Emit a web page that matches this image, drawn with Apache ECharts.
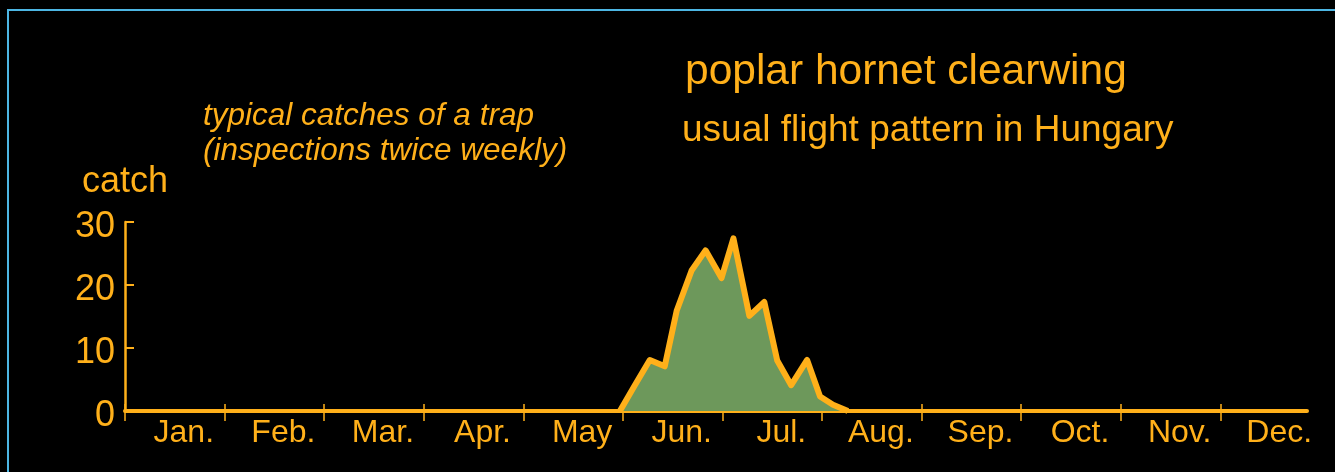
<!DOCTYPE html>
<html lang="en">
<head>
    <meta charset="UTF-8">
    <title>poplar hornet clearwing</title>
    <style>
        html, body { margin: 0; padding: 0; background: #000; }
        #chart { width: 1335px; height: 472px; }
    </style>
</head>
<body>
<div id="chart"></div>
<script src="https://cdn.jsdelivr.net/npm/echarts@6/dist/echarts.min.js"></script>
<script type="text/javascript">
    // month units on the x axis (0 = start of Jan.)
    var months = ['Jan.', 'Feb.', 'Mar.', 'Apr.', 'May', 'Jun.', 'Jul.', 'Aug.', 'Sep.', 'Oct.', 'Nov.', 'Dec.'];
    var monthTicks = [0, 1, 2, 3, 4, 5, 6, 7, 8, 9, 10, 11];
    var yTicks = [0, 10, 20, 30];
    // trap inspections (twice weekly)
    var catchX = [4.97, 5.12, 5.27, 5.42, 5.54, 5.69, 5.83, 5.99, 6.11, 6.27, 6.42, 6.55, 6.69, 6.85, 6.98, 7.11, 7.26];
    var catchY = [0, 4.1, 8.1, 7.1, 15.9, 22.3, 25.5, 21.1, 27.4, 15.1, 17.3, 8.0, 4.1, 8.1, 2.3, 1.0, 0];

    var orange = '#ffb01a';
    var font = 'Arial, "Liberation Sans", sans-serif';

    var chart = echarts.init(document.getElementById('chart'));
    var option = {
        backgroundColor: '#000',
        animation: false,
        grid: [
            {left: 125, right: 28, top: 222, bottom: 61},
            // label band, shifted a bit to the right like the original
            {left: 134, width: 1195, top: 222, bottom: 61}
        ],
        xAxis: [{
            type: 'value', gridIndex: 0, min: 0, max: 11.87,
            axisLine: {lineStyle: {color: orange, width: 4}},
            axisTick: {inside: true, length: 7, customValues: monthTicks, lineStyle: {color: orange, width: 1.5}},
            axisLabel: {show: false},
            splitLine: {show: false}
        }, {
            type: 'value', gridIndex: 0, min: 0, max: 11.87, position: 'bottom',
            axisLine: {show: false},
            axisTick: {length: 10, customValues: monthTicks, lineStyle: {color: orange, width: 1.5}},
            axisLabel: {show: false},
            splitLine: {show: false}
        }, {
            type: 'category', gridIndex: 1, data: months,
            axisLine: {show: false},
            axisTick: {show: false},
            axisLabel: {color: orange, fontSize: 32, fontFamily: font, margin: 6, interval: 0}
        }],
        yAxis: [{
            type: 'value', gridIndex: 0, min: 0, max: 30, interval: 10,
            name: 'catch', nameLocation: 'end', nameGap: 22,
            nameTextStyle: {color: orange, fontSize: 36, fontFamily: font, align: 'center'},
            axisLine: {show: true, lineStyle: {color: orange, width: 2.5}},
            axisTick: {inside: true, length: 9, lineStyle: {color: orange, width: 2}},
            axisLabel: {color: orange, fontSize: 36, fontFamily: font, margin: 10, verticalAlign: 'top', lineHeight: 10},
            splitLine: {show: false}
        }, {
            type: 'value', gridIndex: 0, min: 0, max: 30, interval: 10,
            axisLine: {show: false},
            axisTick: {show: true, length: 4, lineStyle: {color: orange, width: 2}},
            axisLabel: {show: false},
            splitLine: {show: false}
        }, {
            type: 'value', gridIndex: 1, show: false, min: 0, max: 30
        }],
        series: [{
            name: 'catch',
            type: 'line',
            xAxisIndex: 0,
            yAxisIndex: 0,
            data: catchX.map(function (x, i) { return [x, catchY[i]]; }),
            symbol: 'none',
            lineStyle: {color: orange, width: 6, join: 'round'},
            areaStyle: {color: '#6d985b', opacity: 1},
            z: 3
        }],
        graphic: [
            {type: 'rect', shape: {x: 8, y: 10, width: 1400, height: 600}, style: {fill: 'none', stroke: '#4db6e4', lineWidth: 2}, silent: true},
            {type: 'text', left: 685, top: 51, style: {text: 'poplar hornet clearwing', fill: orange, font: '42.5px ' + font}},
            {type: 'text', left: 682, top: 112, style: {text: 'usual flight pattern in Hungary', fill: orange, font: '37px ' + font}},
            {type: 'text', left: 203, top: 100, style: {text: 'typical catches of a trap', fill: orange, font: 'italic 31.5px ' + font}},
            {type: 'text', left: 203, top: 135, style: {text: '(inspections twice weekly)', fill: orange, font: 'italic 31.5px ' + font}}
        ]
    };
    chart.setOption(option);
</script>
</body>
</html>
